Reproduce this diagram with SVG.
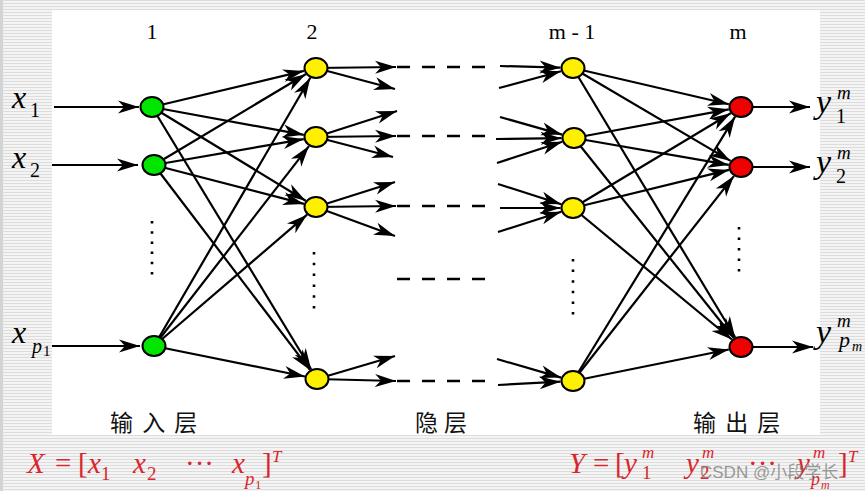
<svg xmlns="http://www.w3.org/2000/svg" width="865" height="491" viewBox="0 0 865 491">
<style>
.edge{stroke:#000;stroke-width:2.2;fill:none;marker-end:url(#ah)}
.dash{stroke:#000;stroke-width:2.4;fill:none;stroke-dasharray:13 12}
.dots{stroke:#000;stroke-width:2.6;fill:none}
.nd{stroke:#000;stroke-width:2}
.g{fill:#00e600}.y{fill:#fff000}.r{fill:#f00000}
.hd{font-family:"Liberation Serif",serif;font-size:22px;fill:#000;text-anchor:middle}
.m{font-family:"Liberation Serif",serif;fill:#000}
.it{font-style:italic}
.red{fill:#d9262c}
.cn{font-family:"Noto Sans CJK SC",sans-serif;font-size:23px;fill:#111}
.wm{font-family:"Liberation Sans","Noto Sans CJK SC",sans-serif;font-size:17px;fill:#808080;fill-opacity:0.8}
</style>
<defs>
<marker id="ah" markerUnits="userSpaceOnUse" markerWidth="22" markerHeight="16" viewBox="0 0 22 16" refX="21" refY="8" orient="auto"><path d="M0,1.5 L21,8 L0,14.5 L6,8 Z" fill="#000"/></marker>
<pattern id="stripe" width="6" height="3" patternUnits="userSpaceOnUse"><rect width="6" height="3" fill="#f4f4f4"/><rect width="6" height="1" fill="#dcdcdc"/></pattern>
</defs>
<g id="background">
<rect x="0" y="0" width="865" height="491" fill="url(#stripe)"/>
<rect x="0" y="0" width="3" height="491" fill="#d4d4d4"/>
<rect x="52" y="10" width="768" height="425" fill="#fff"/>
</g>
<g id="connectors">
<path class="edge" d="M54,107 L139,107"/>
<path class="edge" d="M52,165 L138,165"/>
<path class="edge" d="M52,346 L140,346"/>
<path class="edge" d="M152,107 L303.9,70.9"/>
<path class="edge" d="M152,107 L303.8,134.8"/>
<path class="edge" d="M152,107 L305.7,200.7"/>
<path class="edge" d="M152,107 L311.1,369.3"/>
<path class="edge" d="M154,165 L305.7,74.2"/>
<path class="edge" d="M154,165 L303.8,139.1"/>
<path class="edge" d="M154,165 L304,203.9"/>
<path class="edge" d="M154,165 L310,369.9"/>
<path class="edge" d="M154,346 L310.3,77.8"/>
<path class="edge" d="M154,346 L309,146.1"/>
<path class="edge" d="M154,346 L307.1,214.7"/>
<path class="edge" d="M154,346 L304.9,376.5"/>
<path class="edge" d="M316,68 L396,67"/>
<path class="edge" d="M316,68 L395,89"/>
<path class="edge" d="M316,137 L397,111"/>
<path class="edge" d="M316,137 L396,136"/>
<path class="edge" d="M316,137 L393,157"/>
<path class="edge" d="M316,207 L395,182"/>
<path class="edge" d="M316,207 L396,206"/>
<path class="edge" d="M316,207 L395,236"/>
<path class="edge" d="M317,379 L395,356"/>
<path class="edge" d="M317,379 L396,381"/>
<path class="dash" d="M397,67 H488 M397,136 H488 M397,206 H488 M397,279 H488 M397,381 H488"/>
<path class="edge" d="M500,66 L560.5,67.7"/>
<path class="edge" d="M499,88 L561,71.2"/>
<path class="edge" d="M500,117 L562.1,134.6"/>
<path class="edge" d="M496,139 L561.6,138.2"/>
<path class="edge" d="M497,163 L562.3,141.8"/>
<path class="edge" d="M498,184 L561.3,204.3"/>
<path class="edge" d="M500,208 L560.5,208"/>
<path class="edge" d="M498,232 L561.3,211.7"/>
<path class="edge" d="M497,359 L561.1,377.6"/>
<path class="edge" d="M498,385 L560.5,381.7"/>
<path class="edge" d="M573,68 L728.9,104.2"/>
<path class="edge" d="M573,68 L730.6,160.9"/>
<path class="edge" d="M573,68 L735.1,337.3"/>
<path class="edge" d="M574,138 L728.8,109.3"/>
<path class="edge" d="M574,138 L728.8,164.9"/>
<path class="edge" d="M574,138 L733.8,338"/>
<path class="edge" d="M573,208 L730.7,113.2"/>
<path class="edge" d="M573,208 L729,169.9"/>
<path class="edge" d="M573,208 L731.9,339.5"/>
<path class="edge" d="M573,381 L735.1,116.7"/>
<path class="edge" d="M573,381 L733.9,176.1"/>
<path class="edge" d="M573,381 L728.8,349.5"/>
<path class="edge" d="M741,107 L810,107"/>
<path class="edge" d="M741,167 L810,167"/>
<path class="edge" d="M741,347 L813,347"/>
</g>
<g id="ellipses">
<line class="dots" x1="152" y1="221" x2="152" y2="276" stroke-dasharray="2.5 7.7"/>
<line class="dots" x1="314" y1="252" x2="314" y2="310" stroke-dasharray="2.5 8.3"/>
<line class="dots" x1="573" y1="259" x2="573" y2="316" stroke-dasharray="2.5 8.1"/>
<line class="dots" x1="739" y1="227" x2="739" y2="272" stroke-dasharray="2.5 8"/>
</g>
<g id="layer1">
<g id="n1_1"><ellipse class="nd g" cx="152" cy="107" rx="11.5" ry="10"/></g>
<g id="n1_2"><ellipse class="nd g" cx="154" cy="165" rx="11.5" ry="10"/></g>
<g id="n1_p"><ellipse class="nd g" cx="154" cy="346" rx="11.5" ry="10"/></g>
</g>
<g id="layer2">
<g id="n2_1"><ellipse class="nd y" cx="316" cy="68" rx="11.5" ry="10"/></g>
<g id="n2_2"><ellipse class="nd y" cx="316" cy="137" rx="11.5" ry="10"/></g>
<g id="n2_3"><ellipse class="nd y" cx="316" cy="207" rx="11.5" ry="10"/></g>
<g id="n2_p"><ellipse class="nd y" cx="317" cy="379" rx="11.5" ry="10"/></g>
</g>
<g id="layerm1">
<g id="nm1_1"><ellipse class="nd y" cx="573" cy="68" rx="11.5" ry="10"/></g>
<g id="nm1_2"><ellipse class="nd y" cx="574" cy="138" rx="11.5" ry="10"/></g>
<g id="nm1_3"><ellipse class="nd y" cx="573" cy="208" rx="11.5" ry="10"/></g>
<g id="nm1_p"><ellipse class="nd y" cx="573" cy="381" rx="11.5" ry="10"/></g>
</g>
<g id="layerm">
<g id="nm_1"><ellipse class="nd r" cx="741" cy="107" rx="11.5" ry="10"/></g>
<g id="nm_2"><ellipse class="nd r" cx="741" cy="167" rx="11.5" ry="10"/></g>
<g id="nm_p"><ellipse class="nd r" cx="741" cy="347" rx="11.5" ry="10"/></g>
</g>
<g id="headers">
<text class="hd" x="152" y="39">1</text>
<text class="hd" x="312" y="39">2</text>
<text class="hd" x="572" y="39">m - 1</text>
<text class="hd" x="738" y="39">m</text>
</g>
<g id="inputs" class="m">
<text x="12" y="108"><tspan class="it" font-size="32">x</tspan><tspan x="30" y="117" font-size="20">1</tspan></text>
<text x="12" y="168"><tspan class="it" font-size="32">x</tspan><tspan x="30" y="177" font-size="20">2</tspan></text>
<text x="12" y="343"><tspan class="it" font-size="32">x</tspan><tspan class="it" x="32" y="353" font-size="20">p</tspan><tspan x="43" y="356" font-size="15">1</tspan></text>
</g>
<g id="outputs" class="m">
<text x="816" y="113"><tspan class="it" font-size="34">y</tspan><tspan class="it" x="837" y="99" font-size="19">m</tspan><tspan x="836" y="123" font-size="20">1</tspan></text>
<text x="816" y="173"><tspan class="it" font-size="34">y</tspan><tspan class="it" x="837" y="159" font-size="19">m</tspan><tspan x="836" y="183" font-size="20">2</tspan></text>
<text x="816" y="343"><tspan class="it" font-size="34">y</tspan><tspan class="it" x="837" y="327" font-size="19">m</tspan><tspan class="it" x="839" y="347" font-size="22">p</tspan><tspan class="it" x="852" y="351" font-size="14">m</tspan></text>
</g>
<g id="layer-names">
<text class="cn" x="110" y="431" letter-spacing="2">输 入 层</text>
<text class="cn" x="415" y="431" letter-spacing="6">隐层</text>
<text class="cn" x="693" y="431" letter-spacing="2">输 出 层</text>
</g>
<g id="formulas" class="m red">
<text x="27" y="473" font-size="29"><tspan class="it">X</tspan><tspan x="55">=</tspan><tspan x="78">[</tspan><tspan class="it" x="88">x</tspan><tspan x="101" y="480" font-size="19">1</tspan><tspan class="it" x="133" y="473">x</tspan><tspan x="147" y="480" font-size="19">2</tspan><tspan x="185" y="473">···</tspan><tspan class="it" x="232">x</tspan><tspan class="it" x="245" y="485" font-size="19">p</tspan><tspan x="255" y="489" font-size="13">1</tspan><tspan x="262" y="473">]</tspan><tspan class="it" x="272" y="462" font-size="17">T</tspan></text>
<text x="569" y="473" font-size="29"><tspan class="it">Y</tspan><tspan x="593">=</tspan><tspan x="615">[</tspan><tspan class="it" x="624">y</tspan><tspan class="it" x="642" y="458" font-size="17">m</tspan><tspan x="642" y="479" font-size="19">1</tspan><tspan class="it" x="686" y="473">y</tspan><tspan class="it" x="702" y="458" font-size="17">m</tspan><tspan x="700" y="479" font-size="19">2</tspan><tspan x="748" y="473">···</tspan><tspan class="it" x="797">y</tspan><tspan class="it" x="813" y="458" font-size="17">m</tspan><tspan class="it" x="811" y="485" font-size="18">p</tspan><tspan class="it" x="821" y="489" font-size="12">m</tspan><tspan x="838" y="473">]</tspan><tspan class="it" x="848" y="462" font-size="17">T</tspan></text>
</g>
<g id="watermark">
<text class="wm" x="700" y="478">CSDN @小段学长</text>
</g>
</svg>
